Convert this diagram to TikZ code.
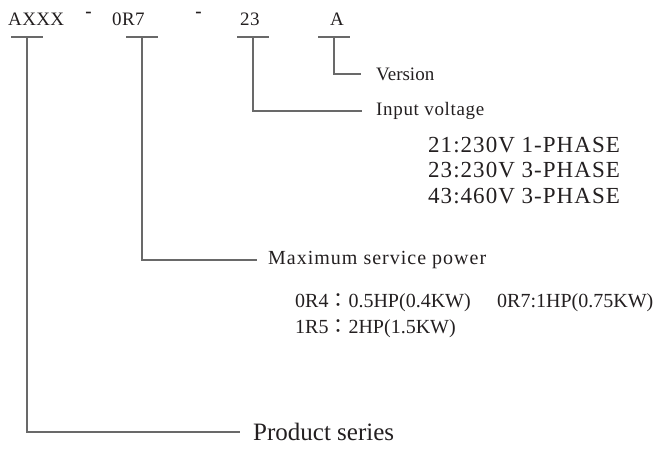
\documentclass[tikz,border=0pt]{standalone}
\usepackage{fontspec}
\setmainfont{Liberation Serif}
\newfontfamily\codefont[LetterSpace=2]{Liberation Serif}
\newfontfamily\tagfont[LetterSpace=3.5]{Liberation Serif}
\newfontfamily\widetagfont[LetterSpace=5]{Liberation Serif}
\newfontfamily\phasefont[LetterSpace=4.5]{Liberation Serif}
\newfontfamily\cjk{Noto Sans CJK TC}
\usepackage{tikz}
\usetikzlibrary{positioning}

\definecolor{linegray}{RGB}{105,105,105}
\definecolor{inkdark}{RGB}{35,31,32}

\tikzset{
    codetext/.style={font=\codefont\fontsize{19}{19}\selectfont, text=inkdark, inner sep=0pt, anchor=base west},
    dashtext/.style={font=\fontsize{19}{19}\selectfont\bfseries, text=inkdark, inner sep=0pt, anchor=base},
    parttag/.style={font=\tagfont\fontsize{19}{19}\selectfont, text=inkdark, inner sep=0pt, anchor=west},
    phaseline/.style={font=\phasefont\fontsize{23}{23}\selectfont, text=inkdark, inner sep=0pt, anchor=base west},
    powerline/.style={font=\fontsize{20}{20}\selectfont, text=inkdark, inner sep=0pt, anchor=base west},
    lead/.style={draw=linegray, line width=1.1pt}
}

\begin{document}
\begin{tikzpicture}[x=1pt,y=1pt]
    \useasboundingbox (0,0) rectangle (658,-450);

    % model code
    \node[codetext] (series) at (8,-25) {AXXX};
    \node[codetext] (power) at (112,-25) {0R7};
    \node[codetext] (voltage) at (240,-25) {23};
    \node[codetext] (version) at (330,-25) {A};
    \node[dashtext] (dashA) at (88.5,-17.5) {-};
    \node[dashtext] (dashB) at (198.5,-17.5) {-};

    % bars under the code
    \foreach \n/\x in {barS/27,barP/142,barV/253,barA/334}{
        \coordinate (\n) at (\x,-37);
        \draw[lead] ([xshift=-16pt]\n) -- ([xshift=16pt]\n);
    }

    % labels
    \node[parttag, font=\fontsize{19}{19}\selectfont] (versiontag) at (376,-74) {Version};
    \node[parttag] (voltagetag) at (376,-111) {Input voltage};
    \node[parttag, font=\widetagfont\fontsize{20}{20}\selectfont] (powertag) at (268,-260) {Maximum service power};
    \node[parttag, font=\fontsize{25}{25}\selectfont] (seriestag) at (253,-432) {Product series};

    \node[phaseline] (ph1) at (428,-152) {21:230V 1-PHASE};
    \node[phaseline] (ph2) at (428,-177) {23:230V 3-PHASE};
    \node[phaseline] (ph3) at (428,-203) {43:460V 3-PHASE};

    \node[powerline] (pw1) at (295,-307) {0R4{\cjk ：}0.5HP(0.4KW)};
    \node[powerline] (pw2) at (497,-307) {0R7:1HP(0.75KW)};
    \node[powerline] (pw3) at (295,-333) {1R5{\cjk ：}2HP(1.5KW)};

    % leaders
    \draw[lead] (barA) |- ([xshift=-15pt]versiontag.west);
    \draw[lead] (barV) |- ([xshift=-14pt]voltagetag.west);
    \draw[lead] (barP) |- ([xshift=-11pt]powertag.west);
    \draw[lead] (barS) |- ([xshift=-13pt]seriestag.west);
\end{tikzpicture}
\end{document}
